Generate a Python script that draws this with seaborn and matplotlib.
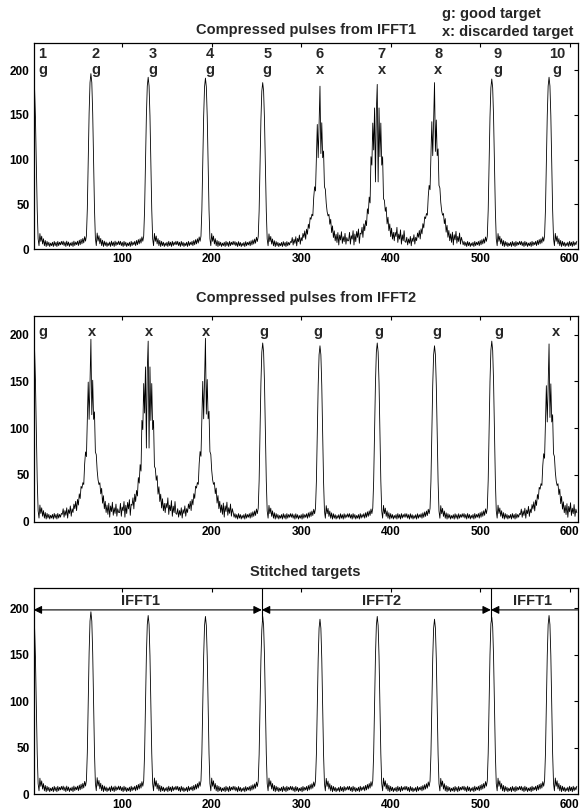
import numpy as np
import pandas as pd
import matplotlib
matplotlib.use('Agg')
import matplotlib.pyplot as plt
import seaborn as sns

# --- data ---
n_samples = 608
pulse_pos = [1, 65, 129, 193, 257, 321, 385, 449, 513, 577]

# target kinds and peak heights per IFFT
kinds_ifft1 = ['g', 'g', 'g', 'g', 'g', 'x', 'x', 'x', 'g', 'g']
kinds_ifft2 = ['g', 'x', 'x', 'x', 'g', 'g', 'g', 'g', 'g', 'x']
shape_ifft1 = ['good', 'good', 'good', 'good', 'good', 'jag_a', 'jag_b', 'jag_a', 'good', 'good']
shape_ifft2 = ['good', 'jag_a', 'jag_b', 'jag_a', 'good', 'good', 'good', 'good', 'good', 'jag_a']
heights_ifft1 = [190, 196, 192, 191, 186, 182, 184, 186, 190, 192]
heights_ifft2 = [195, 195, 193, 196, 191, 188, 191, 188, 193, 190]

# pulse shapes, offsets -32..31 around the peak (peak value 196)
good_pulse = [5, 9, 4, 8, 3, 9, 4, 8, 3, 7, 4, 8, 3, 9, 4, 8, 5, 9, 4, 10, 5, 11, 6, 12, 7, 14, 9,
              15, 45, 100, 152, 186, 196, 186, 152, 100, 45, 12,
              4, 18, 9, 15, 6, 12, 4, 10, 3, 9, 4, 8, 3, 7, 4, 8, 3, 9, 4, 8, 3, 9, 4, 8, 5, 9]
jag_a = [8, 14, 5, 12, 7, 15, 4, 13, 9, 17, 6, 14, 10, 19,
         14, 22, 12, 24, 18, 30, 25, 38, 36, 42, 40, 62, 75, 70, 112, 150, 110, 150,
         196,
         115, 152, 110, 118, 75, 72, 55, 45, 40, 42, 30, 36, 20, 28, 14, 22, 10, 18,
         8, 20, 5, 17, 11, 21, 7, 15, 9, 19, 6, 14, 10]
jag_b = [10, 20, 6, 16, 12, 22, 5, 18, 9, 21, 14, 24, 7, 19,
         18, 26, 14, 30, 22, 34, 28, 48, 42, 62, 55, 110, 100, 150, 118, 168, 80, 165,
         196,
         80, 168, 110, 150, 100, 110, 60, 58, 45, 50, 30, 38, 22, 30, 15, 25, 12, 20,
         10, 20, 15, 26, 8, 18, 12, 23, 6, 17, 10, 22, 9]
shapes = {'good': good_pulse, 'jag_a': jag_a, 'jag_b': jag_b}

# label positions above the peaks
num_x = [11, 70, 134, 198, 262, 321, 390, 453, 520, 586]
kind_x2 = [11, 66, 130, 194, 258, 319, 387, 452, 521, 585]
stitch_edges = [1, 256, 512, 609]
stitch_names = ['IFFT1', 'IFFT2', 'IFFT1']
stitch_text_x = [120, 390, 558]


def build_signal(shape_names, heights):
    # 32 samples of padding on the left so the first pulse can start before sample 1
    sig = np.zeros(n_samples + 64)
    for pos, name, h in zip(pulse_pos, shape_names, heights):
        tpl = np.array(shapes[name], dtype=float) * h / 196.0
        start = pos - 1
        sig[start:start + 64] = tpl
    return sig[32:32 + n_samples]


x = np.arange(1, n_samples + 1)
s1 = build_signal(shape_ifft1, heights_ifft1)
s2 = build_signal(shape_ifft2, heights_ifft2)
s3 = np.where((x > 256) & (x <= 512), s2, s1)
df = pd.DataFrame({'sample': np.tile(x, 3), 'amp': np.concatenate([s1, s2, s3]),
                   'panel': np.repeat(['IFFT1', 'IFFT2', 'Stitched'], n_samples)})

# --- style ---
sns.set_theme(style='white')
plt.rcParams['font.family'] = ['Liberation Sans', 'DejaVu Sans']
plt.rcParams['font.weight'] = 'bold'

fig = plt.figure(figsize=(5.8, 8.09), dpi=100)
left, width, height = 0.058, 0.938, 0.2546
bottoms = [0.692, 0.355, 0.018]
titles = ['Compressed pulses from IFFT1', 'Compressed pulses from IFFT2', 'Stitched targets']
pads = [6.5, 10, 8.9]
ylims = [230, 220, 221]
fs = 10.5

axes = []
for i, panel in enumerate(['IFFT1', 'IFFT2', 'Stitched']):
    ax = fig.add_axes([left, bottoms[i], width, height])
    sns.lineplot(data=df[df['panel'] == panel], x='sample', y='amp', ax=ax,
                 color='black', lw=0.6)
    ax.set_xlim(1, 609)
    ax.set_ylim(0, ylims[i])
    ax.set_xticks([100, 200, 300, 400, 500, 600])
    ax.set_yticks([0, 50, 100, 150, 200])
    ax.set_xlabel('')
    ax.set_ylabel('')
    ax.tick_params(direction='in', top=True, right=True, length=3, width=0.8,
                   labelsize=8.5, pad=3, colors='black')
    for lab in ax.get_xticklabels() + ax.get_yticklabels():
        lab.set_fontweight('bold')
    for sp in ax.spines.values():
        sp.set_color('black')
        sp.set_linewidth(0.9)
    ax.set_title(titles[i], fontsize=fs, fontweight='bold', pad=pads[i])
    axes.append(ax)

# panel 1 labels
for k, (nx, kind) in enumerate(zip(num_x, kinds_ifft1)):
    axes[0].text(nx, 213, str(k + 1), ha='center', va='baseline', fontsize=fs, fontweight='bold')
    axes[0].text(nx, 196, kind, ha='center', va='baseline', fontsize=fs, fontweight='bold')

# panel 2 labels
for kx, kind in zip(kind_x2, kinds_ifft2):
    axes[1].text(kx, 198, kind, ha='center', va='baseline', fontsize=fs, fontweight='bold')

# stitched annotations
ax3 = axes[2]
for xe in stitch_edges[1:3]:
    ax3.plot([xe, xe], [188, ylims[2]], color='black', lw=0.8)
for j in range(3):
    style = '<|-|>' if j < 2 else '-|>'
    ax3.annotate('', xy=(stitch_edges[j], 198), xytext=(stitch_edges[j + 1], 198),
                 arrowprops=dict(arrowstyle=style, color='black', lw=0.8,
                                 mutation_scale=12, shrinkA=0, shrinkB=0))
    ax3.text(stitch_text_x[j], 203, stitch_names[j], ha='center', va='baseline',
             fontsize=fs, fontweight='bold')

fig.text(0.762, 0.9774, 'g: good target', fontsize=fs, fontweight='bold', va='baseline')
fig.text(0.762, 0.9555, 'x: discarded target', fontsize=fs, fontweight='bold', va='baseline')

fig.savefig('out.png', dpi=100)
